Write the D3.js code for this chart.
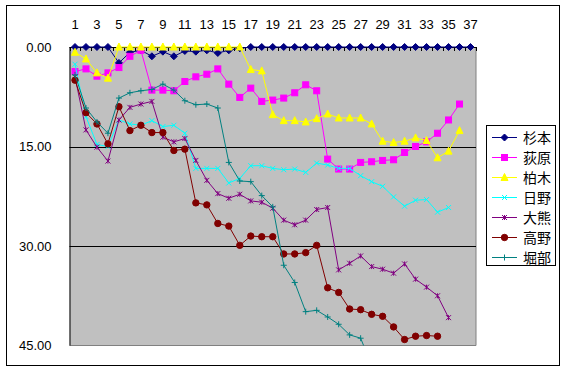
<!DOCTYPE html>
<html><head><meta charset="utf-8">
<script src="https://cdn.jsdelivr.net/npm/d3@7"></script>
<style>body{margin:0;background:#fff}svg{display:block}</style>
</head><body>
<svg id="c" width="566" height="372"></svg>
<script>
const categories = d3.range(1, 38);
const xTickLabels = [1,3,5,7,9,11,13,15,17,19,21,23,25,27,29,31,33,35,37];
const yTicks = [0, 15, 30, 45];
const seriesNames = ["杉本","荻原","柏木","日野","大熊","高野","堀部"];
const seriesColors = ["#000080","#FF00FF","#FFFF00","#00FFFF","#800080","#800000","#008080"];
const seriesMarkers = ["diamond","square","triangle","x","star","circle","plus"];

const sugimoto = [0,0,0,0,2.4,0.8,0.5,1.4,0.7,1.4,0.6,0.7,0.5,0.9,0.5,0.2,0,0,0,0,0,0,0,0,0,0,0,0,0,0,0,0,0,0,0,0,0];
const ogiwara  = [3.7,3.3,4.4,3.9,3.1,1.4,0.5,6.5,6.5,6.6,5.2,4.5,4.1,3.3,5.6,7.6,6.2,8.2,8.0,7.7,6.9,5.7,6.6,16.9,18.4,18.4,17.4,17.3,17.1,17.0,15.9,15.0,14.3,13.0,11.0,8.6];
const kashiwagi= [0.8,1.8,3.9,4.7,0,0,0,0,0,0,0,0,0,0,0,0,3.4,3.6,10.2,11.1,11.1,11.3,10.8,10.1,10.7,10.7,10.7,11.6,14.2,14.4,14.2,13.7,14.1,16.7,15.7,12.6];
const hino     = [2.6,10.5,14.7,15.0,11.0,11.6,11.8,11.1,12.0,11.8,13.0,18.3,18.3,18.3,20.5,19.8,17.9,17.9,18.3,18.5,18.4,18.9,17.5,17.8,18.3,18.3,19.4,20.3,21.0,22.6,24.0,23.1,23.0,24.9,24.2];
const okuma    = [4.5,12.5,15.1,17.2,11.0,9.1,8.6,8.2,13.6,14.3,13.8,17.1,20.1,22.1,22.8,22.2,23.2,23.4,24.3,26.1,26.8,26.1,24.5,24.2,33.6,32.6,31.5,33.1,33.5,34.1,32.7,35.0,36.2,37.5,40.8];
const takano   = [5.0,9.9,11.6,14.6,9.0,12.6,11.8,12.9,12.9,15.6,15.4,23.5,23.8,26.6,27.0,29.9,28.5,28.6,28.6,31.2,31.2,31.0,29.9,36.3,37.0,39.5,39.6,40.3,40.6,42.2,44.1,43.6,43.5,43.6];
const horibe   = [4.2,9.2,11.3,13.0,7.7,6.9,6.6,6.4,5.6,6.5,8.1,8.7,8.6,9.2,17.4,20.2,20.3,22.4,24.1,32.9,35.5,39.9,39.7,40.7,41.8,43.4,43.9,48.0];
const seriesValues = [sugimoto, ogiwara, kashiwagi, hino, okuma, takano, horibe];

const svg = d3.select("#c");
const L = 69.5, R = 476, T = 47, B = 345.5;

svg.append("rect").attr("x",6.5).attr("y",5.5).attr("width",553).attr("height",360)
  .attr("fill","#fff").attr("stroke","#000").attr("stroke-width",1);

const x = d3.scaleBand().domain(categories).range([L, R]).paddingInner(0).paddingOuter(0);
const xc = d => x(d) + x.bandwidth()/2;
const y = d3.scaleLinear().domain([0,45]).range([T, B]);

svg.append("rect").attr("x",L).attr("y",T).attr("width",R-L).attr("height",B-T).attr("fill","#C0C0C0");
svg.append("path").attr("d",`M${R},${T}V${B}H${L}`).attr("fill","none").attr("stroke","#808080");

svg.append("g").selectAll("line").data(yTicks.filter(v=>v>0&&v<45)).join("line")
  .attr("x1",L).attr("x2",R).attr("y1",d=>Math.round(y(d))+0.5).attr("y2",d=>Math.round(y(d))+0.5)
  .attr("stroke","#000");

const yAxis = d3.axisLeft(y).tickValues(yTicks).tickFormat(d3.format(".2f")).tickSize(0).tickPadding(18);
const yg = svg.append("g").attr("transform",`translate(${L},0)`).call(yAxis);
yg.select(".domain").remove();
yg.selectAll("text").attr("font-family","Liberation Sans, Arial, sans-serif").attr("font-size",13).attr("fill","#000");
svg.append("line").attr("x1",L+0.5).attr("x2",L+0.5).attr("y1",T).attr("y2",B).attr("stroke","#000");

const xAxis = d3.axisTop(x).tickValues(xTickLabels).tickSize(0).tickPadding(18);
const xg = svg.append("g").attr("transform",`translate(0,${T})`).call(xAxis);
xg.select(".domain").remove();
xg.selectAll("text").attr("font-family","Liberation Sans, Arial, sans-serif").attr("font-size",13).attr("fill","#000");
svg.append("line").attr("x1",L).attr("x2",R).attr("y1",T+0.5).attr("y2",T+0.5).attr("stroke","#000");
svg.append("g").selectAll("line").data(categories.concat([38])).join("line")
  .attr("x1",d=>Math.round(d<=37?x(d):R)+0.5).attr("x2",d=>Math.round(d<=37?x(d):R)+0.5)
  .attr("y1",T).attr("y2",T+4).attr("stroke","#000");

svg.append("clipPath").attr("id","clip").append("rect").attr("x",L).attr("y",T-6).attr("width",R-L+6).attr("height",B-T+6);

function marker(g, type, color, size) {
  const s = size;
  switch(type){
    case "diamond": g.append("path").attr("d",`M0,${-s}L${s},0L0,${s}L${-s},0Z`).attr("fill",color).attr("stroke",color); break;
    case "square": g.append("rect").attr("x",-s+0.5).attr("y",-s+0.5).attr("width",2*s-1).attr("height",2*s-1).attr("fill",color).attr("stroke",color); break;
    case "triangle": g.append("path").attr("d",`M0,${-s-0.5}L${s},${s-0.5}L${-s},${s-0.5}Z`).attr("fill",color).attr("stroke",color); break;
    case "x": g.append("path").attr("d",`M${-s},${-s}L${s},${s}M${-s},${s}L${s},${-s}`).attr("stroke",color).attr("fill","none"); break;
    case "star": g.append("path").attr("d",`M${-s},${-s}L${s},${s}M${-s},${s}L${s},${-s}M0,${-s}V${s}`).attr("stroke",color).attr("fill","none"); break;
    case "circle": g.append("circle").attr("r",s).attr("fill",color).attr("stroke",color); break;
    case "plus": g.append("path").attr("d",`M${-s},0H${s}M0,${-s}V${s}`).attr("stroke",color).attr("fill","none"); break;
  }
}
const sizes = {diamond:3.5,square:3.5,triangle:3.5,x:2.5,star:2.5,circle:3.2,plus:3};

const line = d3.line().x((d,i)=>xc(categories[i])).y(d=>y(d));
const plotG = svg.append("g").attr("clip-path","url(#clip)");
seriesValues.forEach((vals, si) => {
  const g = plotG.append("g");
  g.append("path").attr("d", line(vals)).attr("fill","none").attr("stroke",seriesColors[si]).attr("stroke-width",1);
  vals.forEach((v,i) => {
    if (v > 45) return;
    const mg = g.append("g").attr("transform",`translate(${xc(categories[i])},${y(v)})`);
    marker(mg, seriesMarkers[si], seriesColors[si], sizes[seriesMarkers[si]]);
  });
});

const lg = svg.append("g");
lg.append("rect").attr("x",486.5).attr("y",125.5).attr("width",69).attr("height",140).attr("fill","#fff").attr("stroke","#000");
seriesNames.forEach((n, i) => {
  const cy = 137.5 + i*20;
  lg.append("line").attr("x1",492).attr("x2",517).attr("y1",cy).attr("y2",cy).attr("stroke",seriesColors[i]);
  const mg = lg.append("g").attr("transform",`translate(504.5,${cy})`);
  marker(mg, seriesMarkers[i], seriesColors[i], sizes[seriesMarkers[i]]);
  lg.append("text").attr("x",523).attr("y",cy).attr("dy","0.36em").attr("font-family","Noto Sans CJK JP, sans-serif")
    .attr("font-size",14).attr("fill","#000").text(n);
});
</script>
</body></html>
